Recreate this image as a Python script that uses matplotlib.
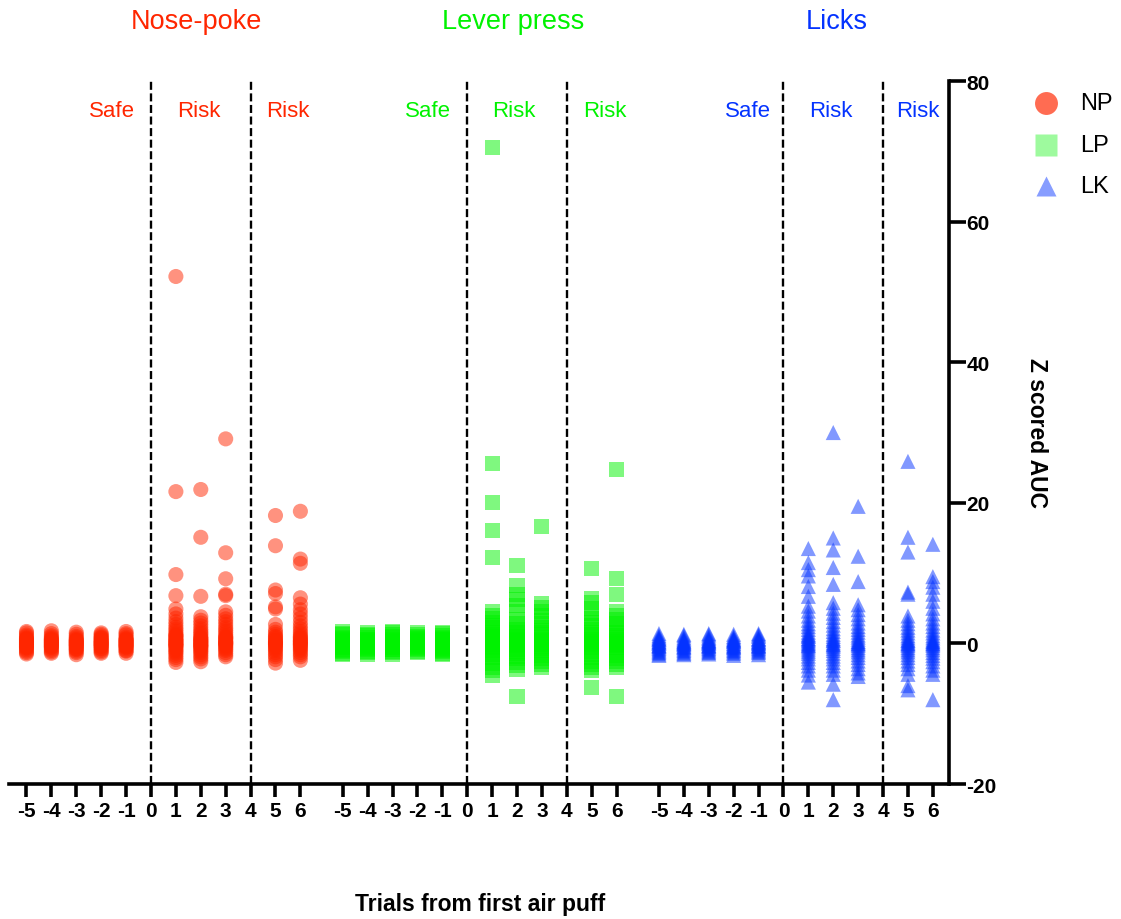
import matplotlib
matplotlib.use("Agg")
import matplotlib.pyplot as plt
from matplotlib.lines import Line2D

plt.rcParams['font.family'] = ['Liberation Sans', 'DejaVu Sans']

# ---- data: Z-scored AUC per trial, relative to the first air puff ----
trials = [-5, -4, -3, -2, -1, 1, 2, 3, 5, 6]
tick_values = [-5, -4, -3, -2, -1, 0, 1, 2, 3, 4, 5, 6]

# Nose-poke
np_m5 = [1.7, 1.5, 1.2, 1.0, 0.8, 0.6, 0.5, 0.3, 0.2, 0.1, 0.0, -0.1, -0.2, -0.3, -0.4, -0.6, -0.7, -0.9, -1.1, -1.3, -1.5, 0.4, -0.5, 0.7]
np_m4 = [1.8, 1.4, 1.1, 0.9, 0.7, 0.5, 0.4, 0.2, 0.1, -0.1, -0.2, -0.3, -0.5, -0.6, -0.8, -1.0, -1.2, -1.4, 0.3, 0.0, -0.4, 0.6]
np_m3 = [1.6, 1.3, 1.0, 0.8, 0.6, 0.4, 0.3, 0.1, 0.0, -0.1, -0.3, -0.4, -0.5, -0.7, -0.9, -1.1, -1.3, -1.6, 0.2, 0.5, -0.2, -0.8]
np_m2 = [1.5, 1.3, 1.1, 0.9, 0.7, 0.5, 0.3, 0.2, 0.0, -0.1, -0.2, -0.4, -0.5, -0.7, -0.8, -1.0, -1.2, -1.4, 0.4, 0.1, -0.3, 0.8]
np_m1 = [1.7, 1.4, 1.2, 0.9, 0.7, 0.6, 0.4, 0.2, 0.1, -0.1, -0.2, -0.3, -0.5, -0.6, -0.8, -1.0, -1.1, -1.4, 0.3, 0.0, -0.4, 0.5]
np_p1 = [52.2, 21.6, 9.8, 6.8, 4.9, 4.2, 3.6, 3.1, 2.7, 2.3, 2.0, 1.7, 1.4, 1.2, 1.0, 0.8, 0.6, 0.4, 0.3, 0.1, 0.0, -0.1, -0.3, -0.4, -0.6, -0.8, -1.0, -1.2, -1.4, -1.7, -2.0, -2.3, -2.7, 0.5, -0.2, 1.1]
np_p2 = [21.9, 15.1, 6.7, 3.8, 3.3, 2.9, 2.5, 2.1, 1.8, 1.5, 1.3, 1.0, 0.8, 0.6, 0.4, 0.2, 0.1, -0.1, -0.2, -0.4, -0.5, -0.7, -0.9, -1.1, -1.3, -1.6, -1.9, -2.2, -2.6, 0.3, -0.3, 0.7]
np_p3 = [29.1, 12.9, 9.2, 7.0, 6.8, 4.5, 4.0, 3.5, 3.1, 2.7, 2.3, 2.0, 1.7, 1.4, 1.1, 0.9, 0.7, 0.5, 0.3, 0.1, 0.0, -0.2, -0.4, -0.6, -0.8, -1.0, -1.3, -1.6, -1.9, 0.2, -0.1, 0.8]
np_p5 = [18.2, 13.9, 7.6, 7.1, 5.2, 4.9, 2.7, 2.0, 1.6, 1.3, 1.0, 0.7, 0.5, 0.3, 0.1, 0.0, -0.2, -0.4, -0.6, -0.8, -1.0, -1.3, -1.6, -1.9, -2.3, -2.8, 0.2, -0.1, 0.9]
np_p6 = [18.8, 12.0, 11.4, 6.5, 5.6, 4.8, 4.2, 3.6, 3.0, 2.5, 2.1, 1.7, 1.4, 1.1, 0.8, 0.6, 0.4, 0.2, 0.0, -0.2, -0.4, -0.6, -0.8, -1.0, -1.3, -1.6, -1.9, -2.4, 0.3, -0.1, 0.9]

# Lever press
lp_m5 = [1.7, 1.4, 1.2, 0.9, 0.7, 0.5, 0.3, 0.2, 0.0, -0.1, -0.3, -0.4, -0.6, -0.8, -1.0, -1.2, -1.4, -1.6, 0.4, 0.1, -0.5]
lp_m4 = [1.6, 1.3, 1.1, 0.9, 0.6, 0.4, 0.3, 0.1, 0.0, -0.2, -0.3, -0.5, -0.7, -0.9, -1.1, -1.3, -1.5, 0.5, 0.2, -0.4]
lp_m3 = [1.7, 1.5, 1.2, 1.0, 0.8, 0.6, 0.4, 0.2, 0.1, -0.1, -0.2, -0.4, -0.6, -0.8, -0.9, -1.1, -1.3, -1.5, 0.3, 0.0, -0.5]
lp_m2 = [1.5, 1.3, 1.0, 0.8, 0.6, 0.4, 0.2, 0.1, -0.1, -0.2, -0.4, -0.5, -0.7, -0.9, -1.1, -1.3, 0.3, 0.0, -0.3, 0.7]
lp_m1 = [1.6, 1.4, 1.1, 0.9, 0.7, 0.5, 0.3, 0.1, 0.0, -0.2, -0.3, -0.5, -0.7, -0.9, -1.0, -1.2, -1.4, -1.6, 0.4, -0.4, 0.6]
lp_p1 = [70.5, 25.6, 20.0, 16.1, 12.2, 4.5, 4.0, 3.5, 3.0, 2.6, 2.2, 1.8, 1.5, 1.2, 0.9, 0.6, 0.4, 0.2, 0.0, -0.2, -0.4, -0.7, -1.0, -1.3, -1.6, -2.0, -2.4, -2.9, -3.4, -3.9, -4.5, 0.8, -0.5, 1.0]
lp_p2 = [11.1, 8.2, 7.0, 6.2, 5.4, 4.6, 3.4, 2.9, 2.4, 2.0, 1.6, 1.3, 1.0, 0.7, 0.4, 0.2, 0.0, -0.2, -0.5, -0.8, -1.1, -1.4, -1.8, -2.2, -2.7, -3.2, -3.7, -7.5, 0.5, -0.3]
lp_p3 = [16.6, 5.7, 5.1, 4.5, 3.9, 3.3, 2.8, 2.3, 1.9, 1.5, 1.2, 0.9, 0.6, 0.3, 0.1, -0.1, -0.4, -0.7, -1.0, -1.3, -1.7, -2.1, -2.5, -3.0, -3.4, 0.4, -0.2, 0.0]
lp_p5 = [10.7, 6.4, 5.8, 5.0, 4.3, 3.6, 3.0, 2.5, 2.0, 1.6, 1.2, 0.9, 0.6, 0.3, 0.0, -0.3, -0.6, -0.9, -1.2, -1.6, -2.0, -2.5, -3.0, -3.4, -3.8, -6.3, 0.4, -0.1]
lp_p6 = [24.8, 9.2, 7.0, 4.5, 4.0, 3.4, 2.9, 2.4, 1.9, 1.5, 1.1, 0.8, 0.5, 0.2, 0.0, -0.3, -0.6, -0.9, -1.3, -1.7, -2.1, -2.6, -3.0, -3.4, -7.5, 0.3, -0.2]

# Licks
lk_m5 = [1.4, 1.1, 0.9, 0.7, 0.5, 0.3, 0.1, 0.0, -0.2, -0.3, -0.5, -0.7, -0.9, -1.1, -1.3, -1.5, -1.7, 0.2, -0.4, 0.6]
lk_m4 = [1.3, 1.1, 0.8, 0.6, 0.4, 0.2, 0.1, -0.1, -0.2, -0.4, -0.6, -0.8, -1.0, -1.2, -1.4, -1.6, 0.3, 0.0, -0.5]
lk_m3 = [1.4, 1.2, 0.9, 0.7, 0.5, 0.3, 0.2, 0.0, -0.2, -0.3, -0.5, -0.7, -0.9, -1.1, -1.3, -1.5, 0.4, -0.4, 0.1]
lk_m2 = [1.3, 1.0, 0.8, 0.6, 0.4, 0.2, 0.0, -0.1, -0.3, -0.5, -0.6, -0.8, -1.0, -1.2, -1.4, -1.7, 0.3, -0.4, 0.5]
lk_m1 = [1.4, 1.2, 1.0, 0.7, 0.5, 0.3, 0.1, 0.0, -0.2, -0.4, -0.5, -0.7, -0.9, -1.1, -1.3, -1.6, 0.2, -0.3, 0.6]
lk_p1 = [13.5, 11.5, 10.5, 9.6, 8.1, 6.7, 5.3, 4.6, 3.9, 3.3, 2.8, 2.4, 2.0, 1.6, 1.3, 1.0, 0.7, 0.4, 0.2, 0.0, -0.2, -0.5, -0.8, -1.1, -1.4, -1.8, -2.2, -2.7, -3.2, -3.8, -4.5, -5.5, 0.6, -0.3, 1.1]
lk_p2 = [30.0, 15.0, 13.3, 10.8, 8.4, 5.8, 5.0, 4.3, 3.7, 3.1, 2.6, 2.1, 1.7, 1.3, 1.0, 0.7, 0.4, 0.1, -0.1, -0.4, -0.7, -1.0, -1.4, -1.8, -2.2, -2.7, -3.2, -3.8, -4.4, -5.8, -8.0, 0.5, -0.2]
lk_p3 = [19.5, 12.4, 8.8, 5.5, 4.8, 4.1, 3.5, 2.9, 2.4, 2.0, 1.6, 1.2, 0.9, 0.6, 0.3, 0.0, -0.3, -0.6, -0.9, -1.2, -1.6, -2.0, -2.5, -3.0, -3.6, -4.2, -4.7, 0.2, -0.1]
lk_p5 = [25.9, 15.1, 13.0, 7.3, 7.0, 3.9, 3.3, 2.8, 2.3, 1.9, 1.5, 1.1, 0.8, 0.5, 0.2, 0.0, -0.3, -0.6, -0.9, -1.2, -1.6, -2.0, -2.5, -3.0, -3.6, -4.4, -6.0, -6.6, 0.4, -0.1]
lk_p6 = [14.1, 9.5, 8.8, 8.0, 7.0, 6.0, 5.0, 4.2, 3.5, 2.9, 2.4, 1.9, 1.5, 1.1, 0.8, 0.5, 0.2, 0.0, -0.3, -0.6, -0.9, -1.3, -1.7, -2.1, -2.6, -3.2, -3.8, -4.4, -8.0, 0.3, -0.1]

np_cols = [np_m5, np_m4, np_m3, np_m2, np_m1, np_p1, np_p2, np_p3, np_p5, np_p6]
lp_cols = [lp_m5, lp_m4, lp_m3, lp_m2, lp_m1, lp_p1, lp_p2, lp_p3, lp_p5, lp_p6]
lk_cols = [lk_m5, lk_m4, lk_m3, lk_m2, lk_m1, lk_p1, lk_p2, lk_p3, lk_p5, lk_p6]

group_titles = ["Nose-poke", "Lever press", "Licks"]
legend_labels = ["NP", "LP", "LK"]
phase_labels = ["Safe", "Risk", "Risk"]

RED = "#FF2600"
GREEN = "#00F200"
BLUE = "#0433FF"
colors = [RED, GREEN, BLUE]
markers = ["o", "s", "^"]
legend_alpha = [0.68, 0.38, 0.48]
legend_size = [16.5, 15.5, 15.0]

group_offset = 12.7  # horizontal distance between the three panels on the shared axis
phase_x = [[-1.57, 1.93, 5.5], [-1.58, 1.88, 5.53], [-1.42, 1.91, 5.4]]
title_x = [1.83, 1.84, 2.15]

fig = plt.figure(figsize=(11.21, 9.2), dpi=100)
ax = fig.add_axes([0.0083, 0.1467, 0.8383, 0.7641])

ticks, ticklabels = [], []
for g, cols in enumerate([np_cols, lp_cols, lk_cols]):
    off = g * group_offset
    for t, vals in zip(trials, cols):
        ax.scatter([off + t] * len(vals), vals, s=118, marker=markers[g],
                   color=colors[g], alpha=0.5, edgecolors="none", zorder=3)
    for b in (0, 4):
        ax.axvline(off + b, color="black", lw=1.7, dashes=(3.4, 1.5), zorder=2)
    for t in tick_values:
        ticks.append(off + t)
        ticklabels.append(str(t))
    for px, lab in zip(phase_x[g], phase_labels):
        ax.text(off + px, 0.9587, lab, transform=ax.get_xaxis_transform(),
                ha="center", va="center", fontsize=16, color=colors[g])
    ax.text(off + title_x[g], 1.0853, group_titles[g], transform=ax.get_xaxis_transform(),
            ha="center", va="center", fontsize=19.5, color=colors[g])

ax.set_xlim(-5.69, 32.05)
ax.set_ylim(-20, 80)
ax.set_xticks(ticks)
ax.set_xticklabels(ticklabels, fontsize=15, fontweight="bold")
ax.set_yticks([-20, 0, 20, 40, 60, 80])
ax.set_yticklabels(["-20", "0", "20", "40", "60", "80"], fontsize=15, fontweight="bold")

ax.spines["top"].set_visible(False)
ax.spines["left"].set_visible(False)
ax.spines["right"].set_linewidth(2.6)
ax.spines["bottom"].set_linewidth(2.6)
ax.yaxis.tick_right()
ax.tick_params(axis="y", direction="out", length=12, width=2.6, pad=0.5)
ax.tick_params(axis="x", direction="out", length=9, width=2.6, pad=3)

fig.text(480 / 1121, 1 - 905 / 920, "Trials from first air puff", ha="center", va="center",
         fontsize=16.5, fontweight="bold")
fig.text(1037 / 1121, 1 - 433 / 920, "Z scored AUC", ha="center", va="center",
         rotation=270, fontsize=16.5, fontweight="bold")

# legend drawn in figure coordinates
for i, (lab, c, m) in enumerate(zip(legend_labels, colors, markers)):
    yy = 1 - (104 + i * 41.5) / 920
    fig.add_artist(Line2D([1046 / 1121], [yy], transform=fig.transFigure, marker=m,
                          markersize=legend_size[i], color=c, alpha=legend_alpha[i],
                          markeredgecolor="none", ls=""))
    fig.text(1080 / 1121, yy, lab, ha="left", va="center", fontsize=17)

fig.savefig("out.png", dpi=100)
